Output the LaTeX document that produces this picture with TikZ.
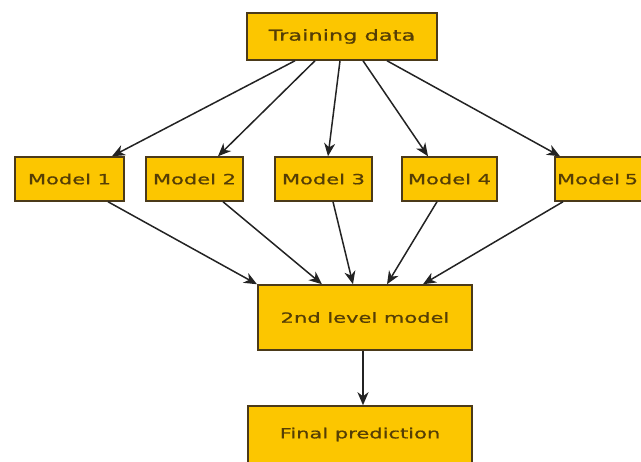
\documentclass[tikz,border=0pt]{standalone}
\usepackage{fontspec}
\setmainfont[FakeStretch=1.5,FakeBold=0.8]{DejaVu Sans}
\usetikzlibrary{arrows.meta}
\definecolor{boxfill}{RGB}{252,198,0}
\definecolor{boxline}{RGB}{75,58,25}
\definecolor{boxtext}{RGB}{85,62,5}
\definecolor{arr}{RGB}{35,35,35}
\begin{document}
\begin{tikzpicture}[x=1pt,y=-1pt,
  box/.style={draw=boxline,line width=1.5pt,fill=boxfill,text=boxtext,inner sep=0pt,
    font=\fontsize{14}{16}\selectfont},
  link/.style={draw=arr,line width=1.5pt,-{Stealth[length=13pt,width=11pt,inset=4pt]}}]
\useasboundingbox (0,0) rectangle (641,462);
\clip (0,0) rectangle (641,462);
\node[box,minimum width=190pt,minimum height=47pt,font=\fontsize{15}{17}\selectfont] (train) at (342,36.5) {Training data};
\node[box,minimum width=109pt,minimum height=44pt] (m1) at (69.5,179) {Model 1};
\node[box,minimum width=97pt,minimum height=44pt] (m2) at (194.5,179) {Model 2};
\node[box,minimum width=97pt,minimum height=44pt] (m3) at (323.5,179) {Model 3};
\node[box,minimum width=95pt,minimum height=44pt] (m4) at (449.5,179) {Model 4};
\node[box,minimum height=44pt,text width=100pt,align=left,inner xsep=2pt] (m5) at (607,179) {Model 5};
\node[box,minimum width=214pt,minimum height=65pt] (lvl) at (365,317.5) {2nd level model};
\node[box,minimum width=224pt,minimum height=57pt] (fin) at (360,434.5) {Final prediction};
\draw[link] ([xshift=-47pt]train.south) -- ([xshift=42.5pt]m1.north);
\draw[link] ([xshift=-27pt]train.south) -- ([xshift=23.5pt]m2.north);
\draw[link] ([xshift=-2pt]train.south) -- ([xshift=4.5pt]m3.north);
\draw[link] ([xshift=21pt]train.south) -- ([xshift=-21.5pt]m4.north);
\draw[link] ([xshift=45pt]train.south) -- ([xshift=-47pt]m5.north);
\draw[link] ([xshift=38.5pt]m1.south) -- ([xshift=-108pt]lvl.north);
\draw[link] ([xshift=28.5pt]m2.south) -- ([xshift=-43pt]lvl.north);
\draw[link] ([xshift=9.5pt]m3.south) -- ([xshift=-12pt]lvl.north);
\draw[link] ([xshift=-12.5pt]m4.south) -- ([xshift=22pt]lvl.north);
\draw[link] ([xshift=-44pt]m5.south) -- ([xshift=58pt]lvl.north);
\draw[link] ([xshift=-2pt]lvl.south) -- ([xshift=3pt]fin.north);
\end{tikzpicture}
\end{document}
